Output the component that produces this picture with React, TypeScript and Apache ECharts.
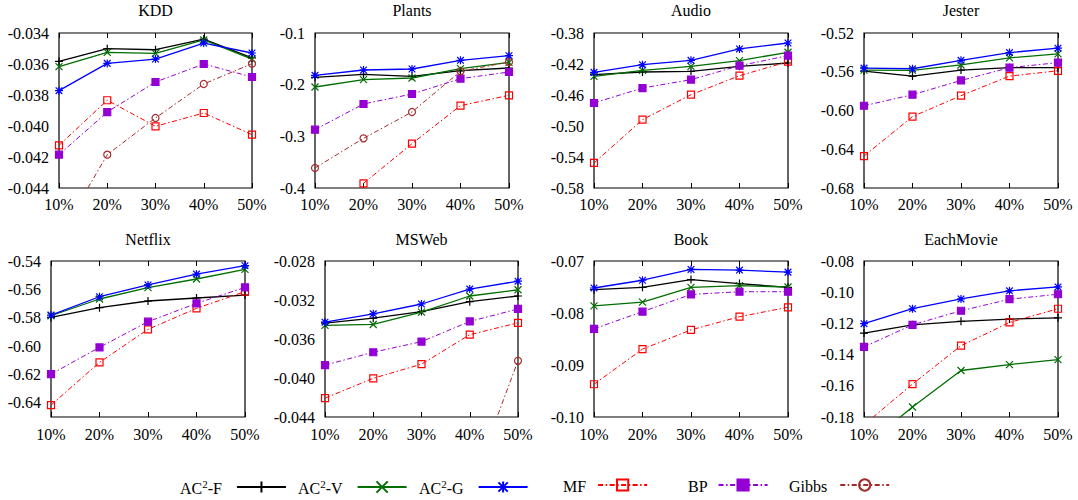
import React, { useEffect, useRef } from 'react';
import * as echarts from 'echarts';

const categories = ['10%', '20%', '30%', '40%', '50%'];
const datasets = ['KDD', 'Plants', 'Audio', 'Jester', 'Netflix', 'MSWeb', 'Book', 'EachMovie'];

// rows follow the order of `datasets`
const ac2F = [
  [-0.03583, -0.03501, -0.03508, -0.03439, -0.03561],
  [-0.1858, -0.18, -0.1839, -0.1729, -0.1677],
  [-0.4338, -0.4303, -0.4295, -0.423, -0.4187],
  [-0.5593, -0.5645, -0.5583, -0.5558, -0.5558],
  [-0.5798, -0.5729, -0.5682, -0.5661, -0.564],
  [-0.03437, -0.03386, -0.03319, -0.03217, -0.03159],
  [-0.07552, -0.07506, -0.07357, -0.07435, -0.07506],
  [-0.1262, -0.1209, -0.1187, -0.1172, -0.1164],
];
const ac2V = [
  [-0.03617, -0.03525, -0.03531, -0.03445, -0.03568],
  [-0.2045, -0.1903, -0.1871, -0.169, -0.1568],
  [-0.4359, -0.4282, -0.423, -0.4157, -0.4049],
  [-0.5583, -0.5586, -0.553, -0.5457, -0.5416],
  [-0.5786, -0.5668, -0.5588, -0.5527, -0.5459],
  [-0.03461, -0.03451, -0.03325, -0.03159, -0.03095],
  [-0.07864, -0.07792, -0.07506, -0.07474, -0.075],
  [-0.199, -0.1736, -0.1502, -0.1464, -0.1432],
];
const ac2G = [
  [-0.03772, -0.03596, -0.03568, -0.03465, -0.03529],
  [-0.1819, -0.1716, -0.1697, -0.1529, -0.1439],
  [-0.4308, -0.4209, -0.4153, -0.4006, -0.3929],
  [-0.5562, -0.5569, -0.5482, -0.5402, -0.5357],
  [-0.5781, -0.5652, -0.5569, -0.5492, -0.5433],
  [-0.03427, -0.03342, -0.03241, -0.03088, -0.03007],
  [-0.07519, -0.0737, -0.07162, -0.07175, -0.07214],
  [-0.1202, -0.1106, -0.1043, -0.0991, -0.0966],
];
const mf = [
  [-0.04125, -0.03834, -0.04002, -0.03916, -0.04056],
  [null, -0.391, -0.3142, -0.2406, -0.2206],
  [-0.5477, -0.4918, -0.4596, -0.4351, -0.417],
  [-0.647, -0.6063, -0.5847, -0.5645, -0.559],
  [-0.6416, -0.6115, -0.5882, -0.5734, -0.5616],
  [-0.04207, -0.04003, -0.03858, -0.03556, -0.03434],
  [-0.0937, -0.08695, -0.08325, -0.08071, -0.0789],
  [-0.185, -0.1589, -0.1343, -0.1194, -0.1106],
];
const bp = [
  [-0.04185, -0.0391, -0.03716, -0.036, -0.03684],
  [-0.2871, -0.2374, -0.2181, -0.1884, -0.1755],
  [-0.4703, -0.451, -0.4402, -0.4222, -0.4092],
  [-0.5951, -0.5837, -0.569, -0.5558, -0.5506],
  [-0.6198, -0.6009, -0.5828, -0.5699, -0.5586],
  [-0.03868, -0.03736, -0.03627, -0.0342, -0.03292],
  [-0.08305, -0.07974, -0.07643, -0.07591, -0.07591],
  [-0.1351, -0.1209, -0.1119, -0.1045, -0.1013],
];
const gibbs = [
  [-0.0472, -0.04185, -0.03948, -0.03729, -0.03598],
  [-0.3613, -0.3039, -0.2529, -0.1742, -0.1561],
  [null, null, null, null, null],
  [null, null, null, null, null],
  [null, null, null, null, null],
  [null, null, null, -0.0515, -0.03824],
  [null, null, null, null, null],
  [null, null, null, null, null],
];

const yMin = [-0.044, -0.4, -0.58, -0.68, -0.65, -0.044, -0.1, -0.18];
const yMax = [-0.034, -0.1, -0.38, -0.52, -0.54, -0.028, -0.07, -0.08];
const yTicks = [
  [-0.044, -0.042, -0.04, -0.038, -0.036, -0.034],
  [-0.4, -0.3, -0.2, -0.1],
  [-0.58, -0.54, -0.5, -0.46, -0.42, -0.38],
  [-0.68, -0.64, -0.6, -0.56, -0.52],
  [-0.64, -0.62, -0.6, -0.58, -0.56, -0.54],
  [-0.044, -0.04, -0.036, -0.032, -0.028],
  [-0.1, -0.09, -0.08, -0.07],
  [-0.18, -0.16, -0.14, -0.12, -0.1, -0.08],
];
const yDecimals = [3, 1, 2, 2, 2, 3, 2, 2];

const FONT = 'Liberation Serif';

const PLUS = 'path://M5,0L5,10M0,5L10,5';
const CROSS = 'path://M0,0L10,10M10,0L0,10';
const STAR = 'path://M0,0L10,10M10,0L0,10M5,-1L5,11M-1,5L11,5';

const methods = [
  { name: 'AC²-F', label: '{a|AC}{s|2}{a|-F}', data: ac2F, color: '#000000', symbol: PLUS, size: 8, dash: 'solid', width: 1.3, fill: 'transparent' },
  { name: 'AC²-V', label: '{a|AC}{s|2}{a|-V}', data: ac2V, color: '#006e00', symbol: CROSS, size: 7, dash: 'solid', width: 1.3, fill: 'transparent' },
  { name: 'AC²-G', label: '{a|AC}{s|2}{a|-G}', data: ac2G, color: '#0000ff', symbol: STAR, size: 8, dash: 'solid', width: 1.3, fill: 'transparent' },
  { name: 'MF', label: '{a|MF}', data: mf, color: '#ff0000', symbol: 'rect', size: 7, dash: [5, 2.5, 1.5, 2.5], width: 1, fill: 'transparent' },
  { name: 'BP', label: '{a|BP}', data: bp, color: '#9400d3', symbol: 'rect', size: 7, dash: [5, 2.5, 1.5, 2.5], width: 1, fill: '#9400d3' },
  { name: 'Gibbs', label: '{a|Gibbs}', data: gibbs, color: '#a52a2a', symbol: 'circle', size: 7, dash: [5, 2.5, 1.5, 2.5], width: 1, fill: 'transparent' },
];

const gridLeft = [59, 315, 594, 864, 51, 325, 594, 864];
const gridWidth = [193, 194, 194, 194, 194, 193, 194, 194];
const rowTop = [33, 261];
const rowHeight = [155, 156];
const titleTop = [2, 231];
const xLabelMargin = [8, 9];

const legendLeft = [180, 298, 419, 563, 688, 789];
const legendTextPad = [10, 10, 10, 7, 6, 8];

export default function App() {
  const ref = useRef<HTMLDivElement>(null);
  useEffect(() => {
    if (!ref.current) return;
    const chart = echarts.init(ref.current, undefined, { renderer: 'svg' });
    const grid: any[] = [];
    const xAxis: any[] = [];
    const yAxis: any[] = [];
    const title: any[] = [];
    const series: any[] = [];
    datasets.forEach((ds, i) => {
      const row = i < 4 ? 0 : 1;
      grid.push({
        left: gridLeft[i], top: rowTop[row], width: gridWidth[i], height: rowHeight[row],
        show: true, borderColor: '#000', borderWidth: 1.2, backgroundColor: 'transparent',
      });
      title.push({
        text: ds, left: gridLeft[i] + gridWidth[i] / 2, top: titleTop[row], textAlign: 'center', padding: 0,
        textStyle: { fontFamily: FONT, fontSize: 16, fontWeight: 'normal', color: '#000' },
      });
      xAxis.push({
        type: 'category', gridIndex: i, data: categories, boundaryGap: false,
        axisLine: { show: false },
        axisTick: { inside: true, length: 5, lineStyle: { color: '#000' } },
        axisLabel: { fontFamily: FONT, fontSize: 16, color: '#000', margin: xLabelMargin[row], interval: 0 },
        splitLine: { show: false },
      });
      xAxis.push({
        type: 'category', gridIndex: i, data: categories, boundaryGap: false, position: 'top',
        axisLine: { show: false },
        axisTick: { inside: true, length: 5, lineStyle: { color: '#000' } },
        axisLabel: { show: false },
        splitLine: { show: false },
      });
      const fmt = (v: number) => v.toFixed(yDecimals[i]);
      yAxis.push({
        type: 'value', gridIndex: i, min: yMin[i], max: yMax[i],
        axisLine: { show: false },
        axisTick: { inside: true, length: 5, customValues: yTicks[i], lineStyle: { color: '#000' } },
        axisLabel: { fontFamily: FONT, fontSize: 16, color: '#000', margin: 10, customValues: yTicks[i], formatter: fmt },
        splitLine: { show: false },
      });
      yAxis.push({
        type: 'value', gridIndex: i, min: yMin[i], max: yMax[i], position: 'right',
        axisLine: { show: false },
        axisTick: { inside: true, length: 5, customValues: yTicks[i], lineStyle: { color: '#000' } },
        axisLabel: { show: false, customValues: yTicks[i] },
        splitLine: { show: false },
      });
      methods.forEach((m) => {
        series.push({
          type: 'line', name: m.name, xAxisIndex: 2 * i, yAxisIndex: 2 * i,
          data: m.data[i], symbol: m.symbol, symbolSize: m.size, showAllSymbol: true,
          clip: true, connectNulls: false,
          lineStyle: { color: m.color, width: m.width, type: m.dash },
          itemStyle: { color: m.fill, borderColor: m.color, borderWidth: 1.2 },
          emphasis: { disabled: true },
        });
      });
    });
    const legend = methods.map((m, k) => ({
      data: [m.name], left: legendLeft[k], top: 478, align: 'right', orient: 'horizontal',
      itemWidth: 49, itemHeight: 14, padding: 0, selectedMode: false,
      formatter: () => m.label,
      textStyle: {
        fontFamily: FONT, fontSize: 16, color: '#000', padding: [0, legendTextPad[k], 0, 0],
        rich: {
          a: { fontFamily: FONT, fontSize: 16, color: '#000', lineHeight: 18, verticalAlign: 'bottom' },
          s: { fontFamily: FONT, fontSize: 11, color: '#000', lineHeight: 11, verticalAlign: 'top' },
        },
      },
    }));
    chart.setOption({
      animation: false,
      backgroundColor: '#fff',
      title, grid, xAxis, yAxis, series, legend,
    });
    return () => chart.dispose();
  }, []);
  return <div ref={ref} style={{ position: 'absolute', left: 0, top: 0, width: 1078, height: 500 }} />;
}
